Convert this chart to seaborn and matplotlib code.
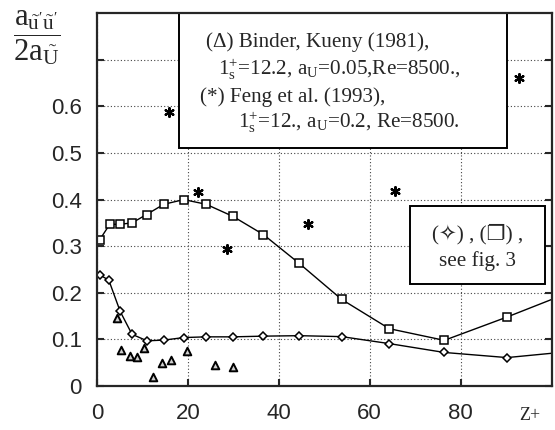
import numpy as np
import pandas as pd
import matplotlib
matplotlib.use('Agg')
import matplotlib.pyplot as plt
from matplotlib.patches import Rectangle
import seaborn as sns

# ---- data ----
# squares: computed a_u'u'/2a_U
x_sq = [0.6, 2.8, 5.0, 7.7, 10.9, 14.7, 19.1, 24.0, 29.9, 36.6, 44.5, 53.8, 64.3, 76.4, 90.2, 104]
y_sq = [0.314, 0.347, 0.347, 0.350, 0.368, 0.390, 0.400, 0.390, 0.364, 0.325, 0.263, 0.186, 0.123, 0.098, 0.148, 0.201]
# diamonds
x_dm = [0.7, 2.6, 5.1, 7.7, 11.0, 14.7, 19.1, 24.0, 29.9, 36.6, 44.5, 53.8, 64.3, 76.4, 90.2, 104]
y_dm = [0.238, 0.227, 0.160, 0.111, 0.097, 0.0985, 0.104, 0.1055, 0.1055, 0.107, 0.108, 0.106, 0.091, 0.072, 0.061, 0.074]
# (triangle) Binder, Kueny (1981)
x_tr = [4.3, 5.2, 7.2, 8.9, 10.3, 12.3, 14.3, 16.3, 19.8, 25.9, 29.9]
y_tr = [0.145, 0.077, 0.065, 0.063, 0.081, 0.020, 0.050, 0.056, 0.076, 0.045, 0.041]
# (*) Feng et al. (1993)
x_st = [15.8, 22.2, 28.7, 46.4, 65.6, 92.9]
y_st = [0.589, 0.416, 0.295, 0.348, 0.418, 0.661]

x_ticks = [0, 20, 40, 60, 80]
y_ticks = [0, 0.1, 0.2, 0.3, 0.4, 0.5, 0.6, 0.7]
y_ticklabels = ['0', '0.1', '0.2', '0.3', '0.4', '0.5', '0.6', '']

sns.set_style('ticks')
plt.rcParams['font.family'] = ['Liberation Sans', 'DejaVu Sans']
plt.rcParams['mathtext.fontset'] = 'custom'
plt.rcParams['mathtext.rm'] = 'Liberation Serif'
plt.rcParams['mathtext.it'] = 'Liberation Serif:italic'

fig = plt.figure(figsize=(5.55, 4.3), dpi=100)
ax = fig.add_axes([0.1748, 0.1023, 0.819, 0.867])

line_kw = dict(color='black', linewidth=1.0, markerfacecolor='white',
               markeredgecolor='black', markeredgewidth=1.1, sort=False,
               estimator=None, clip_on=True)
sns.lineplot(x=x_sq, y=y_sq, marker='s', markersize=6, ax=ax, **line_kw)
sns.lineplot(x=x_dm, y=y_dm, marker='D', markersize=4, ax=ax, **line_kw)

sns.scatterplot(x=x_tr, y=y_tr, marker='^', s=30, color='#cfcfcf',
                edgecolor='black', linewidth=1.4, ax=ax, zorder=3)
sns.scatterplot(x=x_st, y=y_st, marker=(6, 2, 0), s=40, color='black',
                edgecolor='black', linewidth=1.6, ax=ax, zorder=3)

ax.set_xlim(0, 100)
ax.set_ylim(0, 0.8)
ax.set_xticks(x_ticks)
ax.set_yticks(y_ticks)
ax.set_yticklabels(y_ticklabels)
ax.set_xlabel('')
ax.set_ylabel('')
ax.grid(True, linestyle=(0, (1, 2)), color='#444444', linewidth=0.8)
ax.set_axisbelow(True)
ax.tick_params(direction='in', length=5, width=1.5, labelsize=16,
               right=True, pad=11)
ax.tick_params(axis='x', pad=12)
for sp in ax.spines.values():
    sp.set_linewidth(1.6)
    sp.set_visible(True)
    sp.set_zorder(6)

# legend-like boxes
ax.add_patch(Rectangle((0.181, 0.638), 0.722, 0.362, transform=ax.transAxes,
                       facecolor='white', edgecolor='black', linewidth=1.4, zorder=4))
ax.add_patch(Rectangle((0.6887, 0.2737), 0.2963, 0.2093, transform=ax.transAxes,
                       facecolor='white', edgecolor='black', linewidth=1.4, zorder=4))

serif = ['Liberation Serif', 'DejaVu Sans']
tk = dict(transform=ax.transAxes, family=serif, fontsize=15.2, va='baseline',
          ha='left', zorder=5)
ax.text(0.240, 0.9096, '(Δ) Binder, Kueny (1981),', **tk)
ax.text(0.266, 0.834, r'$1^{+}_{\mathrm{s}}$=12.2, a$_{\mathrm{U}}$=0.05,Re=8500.,', **tk)
ax.text(0.2266, 0.762, '(*) Feng et al. (1993),', **tk)
ax.text(0.310, 0.692, r'$1^{+}_{\mathrm{s}}$=12., a$_{\mathrm{U}}$=0.2, Re=8500.', **tk)

tk2 = dict(tk, ha='center')
ax.text(0.838, 0.394, '(✧) , (❐) ,', **tk2)
ax.text(0.838, 0.322, 'see fig. 3', **tk2)

# axis labels
fig.text(37 / 555, 1 - 38 / 430,
         r"$\dfrac{\mathrm{a}_{\tilde{\mathrm{u}}'\tilde{\mathrm{u}}'}}{2\mathrm{a}_{\tilde{\mathrm{U}}}}$",
         fontsize=22, ha='center', va='center')
fig.text(530 / 555, 1 - 416 / 430, 'Z+', family=serif, fontsize=13,
         ha='center', va='center')

fig.savefig('out.png', dpi=100)
